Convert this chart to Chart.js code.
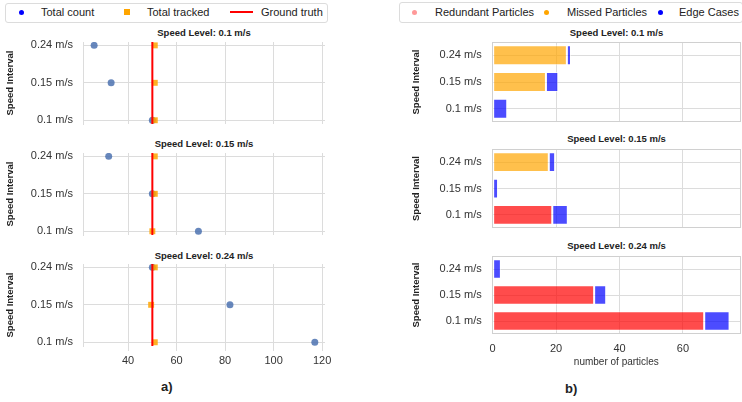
<!DOCTYPE html>
<html><head><meta charset="utf-8">
<script src="https://cdn.jsdelivr.net/npm/chart.js@4.4.0/dist/chart.umd.min.js"></script>
<style>
body{margin:0;width:742px;height:402px;background:#fff;position:relative;overflow:hidden;font-family:"Liberation Sans",Arial,sans-serif;}
canvas{position:absolute;}
.t{position:absolute;white-space:nowrap;color:#222;line-height:14px;}
.lg{position:absolute;border:1px solid #dcdcdc;border-radius:3px;}
.ttl{position:absolute;width:300px;text-align:center;font-weight:bold;font-size:9.5px;line-height:12px;color:#222;}
.dot{position:absolute;border-radius:50%;}
</style></head><body>
<div class="lg" style="left:5px;top:3px;width:321px;height:18px;"></div>
<div class="dot" style="left:18.5px;top:9.5px;width:5px;height:5px;background:#0000ff;"></div>
<div class="t" style="left:41px;top:5px;font-size:11px;">Total count</div>
<div style="position:absolute;left:124px;top:9px;width:6px;height:6px;background:#ffa500;"></div>
<div class="t" style="left:147px;top:5px;font-size:11px;">Total tracked</div>
<div style="position:absolute;left:230px;top:11px;width:23px;height:1.5px;background:#ff0000;"></div>
<div class="t" style="left:261px;top:5px;font-size:11px;">Ground truth</div>

<div class="lg" style="left:399px;top:2px;width:342px;height:19px;"></div>
<div class="dot" style="left:412px;top:9.5px;width:5px;height:5px;background:#ff9999;"></div>
<div class="t" style="left:435px;top:5px;font-size:11px;">Redundant Particles</div>
<div class="dot" style="left:544px;top:9.5px;width:5px;height:5px;background:#ffa500;"></div>
<div class="t" style="left:567px;top:5px;font-size:11px;">Missed Particles</div>
<div class="dot" style="left:657.5px;top:9.5px;width:5px;height:5px;background:#0000ff;"></div>
<div class="t" style="left:679px;top:5px;font-size:11px;">Edge Cases</div>

<div id="titles"></div>
<div class="t" style="left:161px;top:379px;font-size:13px;font-weight:bold;line-height:16px;">a)</div>
<div class="t" style="left:565px;top:381px;font-size:13px;font-weight:bold;line-height:16px;">b)</div>

<canvas id="l0" width="345" height="116" style="left:0;top:25px"></canvas>
<canvas id="l1" width="345" height="116" style="left:0;top:136px"></canvas>
<canvas id="l2" width="345" height="127" style="left:0;top:247px"></canvas>
<canvas id="r0" width="342" height="114" style="left:400px;top:25px"></canvas>
<canvas id="r1" width="342" height="113" style="left:400px;top:132px"></canvas>
<canvas id="r2" width="342" height="133" style="left:400px;top:239px"></canvas>

<script>
// ---- data ----
const intervals = ['0.24 m/s', '0.15 m/s', '0.1 m/s'];
const levelTitles = ['Speed Level: 0.1 m/s', 'Speed Level: 0.15 m/s', 'Speed Level: 0.24 m/s'];
// a) rows in order of intervals (top -> bottom)
const totalCount01 = [26, 33, 50];
const totalCount015 = [32, 50, 69];
const totalCount024 = [50, 82, 117];
const totalTracked01 = [51, 51, 51];
const totalTracked015 = [51, 51, 50];
const totalTracked024 = [51, 49.5, 51];
const groundTruth = 50;
const countTicks = [40, 60, 80, 100, 120];
// b)
const redundant01 = [0, 0, 0];
const redundant015 = [0, 0, 18.8];
const redundant024 = [0, 32, 66.7];
const missed01 = [23.4, 16.8, 0];
const missed015 = [17.7, 0, 0];
const missed024 = [0, 0, 0];
const edge01 = [1.3, 3.9, 4.6];
const edge015 = [2.0, 1.7, 4.9];
const edge024 = [2.6, 3.8, 8.0];
const particleTicks = [0, 20, 40, 60];

const totalCount = [totalCount01, totalCount015, totalCount024];
const totalTracked = [totalTracked01, totalTracked015, totalTracked024];
const redundant = [redundant01, redundant015, redundant024];
const missed = [missed01, missed015, missed024];
const edge = [edge01, edge015, edge024];

// ---- titles ----
const titleBox = document.getElementById('titles');
const leftTitleY = [33, 144, 256];
const rightTitleY = [33, 139, 246];
levelTitles.forEach((t, i) => {
  const a = document.createElement('div'); a.className = 'ttl'; a.textContent = t;
  a.style.left = (204 - 150) + 'px'; a.style.top = (leftTitleY[i] - 6) + 'px'; titleBox.appendChild(a);
  const b = document.createElement('div'); b.className = 'ttl'; b.textContent = t;
  b.style.left = (616.5 - 150) + 'px'; b.style.top = (rightTitleY[i] - 6) + 'px'; titleBox.appendChild(b);
});

const GRID = '#dcdcdc';
const FONT = '"Liberation Sans", Arial, sans-serif';
Chart.defaults.font.family = FONT;
const Y_MIN = -0.1, Y_MAX = 2.09;

function makeLeft(i, showX) {
  const n = intervals.length;
  new Chart(document.getElementById('l' + i), {
    type: 'scatter',
    data: { datasets: [
      { label: 'Ground truth', type: 'line', data: [{x: groundTruth, y: Y_MIN}, {x: groundTruth, y: Y_MAX}],
        borderColor: '#ff0000', borderWidth: 2, pointRadius: 0, order: 0 },
      { label: 'Total tracked', data: totalTracked[i].map((v, k) => ({x: v, y: n - 1 - k})),
        pointStyle: 'rect', pointRadius: 4.2, backgroundColor: 'rgba(255,165,0,0.85)', borderWidth: 0, order: 1 },
      { label: 'Total count', data: totalCount[i].map((v, k) => ({x: v, y: n - 1 - k})),
        pointStyle: 'circle', pointRadius: 3.5, backgroundColor: 'rgba(76,114,176,0.85)', borderWidth: 0, order: 2 }
    ]},
    options: {
      responsive: false, animation: false, events: [],
      layout: { padding: { top: 17, right: 20, bottom: showX ? 2 : 15, left: 0 } },
      plugins: { legend: { display: false }, tooltip: { enabled: false } },
      scales: {
        x: { type: 'linear', min: 21.4, max: 121.2,
          afterBuildTicks: s => { s.ticks = countTicks.map(v => ({value: v})); },
          afterFit: s => { s.height = showX ? 26 : 2; },
          grid: { color: GRID, drawTicks: showX, tickLength: 5, tickColor: GRID },
          border: { display: false },
          ticks: { display: showX, color: '#333', font: { size: 11 }, padding: 3, autoSkip: false, maxRotation: 0 } },
        y: { type: 'linear', min: Y_MIN, max: Y_MAX,
          afterBuildTicks: s => { s.ticks = intervals.map((_, k) => ({value: k})); },
          afterFit: s => { s.width = 83; },
          grid: { color: GRID, drawTicks: false },
          border: { display: true, color: GRID },
          ticks: { color: '#333', font: { size: 11 }, padding: 10, autoSkip: false,
            callback: v => intervals[n - 1 - v] },
          title: { display: true, text: 'Speed Interval', color: '#222',
            font: { size: 9.5, weight: 'bold' }, padding: { top: 5, bottom: 0 } } }
      }
    }
  });
}

const boxPlugin = { id: 'box', afterDraw(c) {
  const a = c.chartArea, x = c.ctx;
  x.save(); x.strokeStyle = '#d0d0d0'; x.lineWidth = 1;
  x.strokeRect(Math.round(a.left) + 0.5, Math.round(a.top) + 0.5, Math.round(a.right - a.left) - 1, Math.round(a.bottom - a.top) - 1);
  x.restore();
}};

function makeRight(i, showX) {
  new Chart(document.getElementById('r' + i), {
    type: 'bar',
    data: { labels: intervals, datasets: [
      { label: 'Redundant Particles', data: redundant[i], backgroundColor: 'rgba(255,0,0,0.7)' },
      { label: 'Missed Particles', data: missed[i], backgroundColor: 'rgba(255,165,0,0.7)' },
      { label: 'Edge Cases', data: edge[i], backgroundColor: 'rgba(0,0,255,0.7)' }
    ]},
    plugins: [boxPlugin],
    options: {
      indexAxis: 'y', responsive: false, animation: false, events: [],
      datasets: { bar: { barPercentage: 0.75, categoryPercentage: 1, borderWidth: 1,
        borderColor: 'rgba(255,255,255,0.55)', borderSkipped: false } },
      layout: { padding: { top: 17, right: 1, bottom: showX ? 2 : 15, left: 0 } },
      plugins: { legend: { display: false }, tooltip: { enabled: false } },
      scales: {
        x: { type: 'linear', stacked: true, min: -0.3, max: 78.3,
          afterBuildTicks: s => { s.ticks = particleTicks.map(v => ({value: v})); },
          afterFit: s => { s.height = showX ? 36 : 2; },
          grid: { color: GRID, drawTicks: false },
          border: { display: false },
          ticks: { display: showX, color: '#333', font: { size: 11 }, padding: 8, autoSkip: false, maxRotation: 0 },
          title: { display: showX, text: 'number of particles', color: '#333', font: { size: 10 }, padding: { top: 0, bottom: 2 } } },
        y: { type: 'category', stacked: true, offset: true,
          afterFit: s => { s.width = 91.7; },
          grid: { color: GRID, drawTicks: false, offset: false },
          border: { display: false },
          ticks: { color: '#333', font: { size: 11 }, padding: 10 },
          title: { display: true, text: 'Speed Interval', color: '#222',
            font: { size: 9.5, weight: 'bold' }, padding: { top: 11, bottom: 0 } } }
      }
    }
  });
}

makeLeft(0, false); makeLeft(1, false); makeLeft(2, true);
makeRight(0, false); makeRight(1, false); makeRight(2, true);
</script>
</body></html>
